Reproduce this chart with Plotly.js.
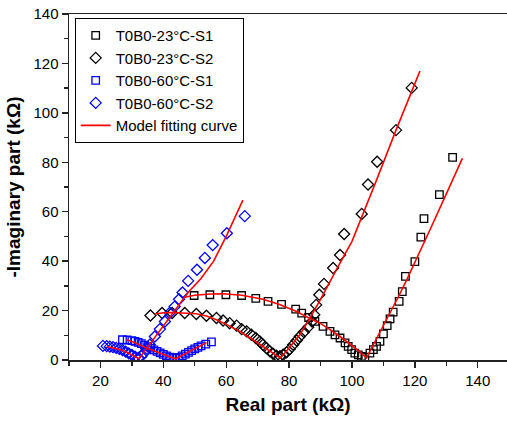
<!DOCTYPE html>
<html>
<head>
<meta charset="utf-8">
<script src="https://cdn.plot.ly/plotly-3.0.1.min.js"></script>
<style>html,body{margin:0;padding:0;overflow:hidden;background:#fff;}</style>
</head>
<body>
<div id="chart" style="width:507px;height:425px;"></div>
<script>
// ---- data (kΩ) ----
const s1_23_x = [49.8,54.8,59.9,64.9,69.4,73.3,77.6,82.1,84,86.2,88.2,90.8,93,94.6,96.2,97.8,98.8,99.9,100.9,102,103,104.1,105.7,106.8,107.8,108.9,110,111.2,112.1,113.1,115,116,117,120,121.9,122.9,127.8,132];
const s1_23_y = [26.1,26.4,26.4,26.1,24.9,23.7,22.5,20.6,19,17.2,15.6,13.6,11.6,10.2,8.9,6.9,5.5,4.2,2.8,2.1,1.5,1.2,2.8,4.2,5.5,7.5,10.6,13.9,16.6,19.4,23.7,27.7,33.8,39.8,49.7,57.2,66.9,82];

const s2_23_x = [35.9,39.6,42.8,46.8,50.5,53.7,56.9,59,61.1,63.3,64.9,66.5,68,69.4,70.7,71.7,72.8,73.9,74.9,76,77.1,78.1,79.2,80.2,81.3,82.4,83.4,84.7,86.1,87.3,88.0,88.6,89.6,91.1,94,96.2,97.5,103.1,105.1,108,114,119];
const s2_23_y = [18,19,19,19,18.6,17.9,17,16,14.9,13.9,12.5,11.6,10.2,8.9,7.5,6.2,4.8,3.5,2.5,1.7,1.5,2.1,3.1,4.4,6.2,7.9,9.5,11.3,13.3,15.6,18.3,22.3,26.4,30.8,37.2,42.5,51,59.1,71,80.2,93,110.1];

const s1_60_x = [27,28.5,30,31,32,33,34,35,36,37,38,39,40,41,42,43,44,45,46,47,48,49,50,51,52,53.5,55.3];
const s1_60_y = [8.2,8.1,7.8,7.5,7.1,6.6,6.0,5.4,4.8,4.1,3.5,2.9,2.3,1.7,1.2,0.9,0.8,1.1,1.7,2.4,3.1,3.8,4.5,5.1,5.7,6.4,7.3];

const s2_60_x = [20.8,22,23,24,25,26,27,28,29,30,31,32,33,34,34.8,35.7,37.3,38.9,40.5,42,43.6,45,46.1,47.9,50.7,53.2,55.7,60.2,65.9];
const s2_60_y = [5.7,5.6,5.4,5.2,4.9,4.5,4,3.4,2.7,2,1.3,0.8,1.5,3,4.5,6.2,9.5,12.5,15.6,19,21.6,24.6,27.3,32,36.5,41.3,46.5,51.3,58.2];

const fit_s1_23_x = [46.8,50,55,59,65,71.7,77,82.4,86,89.8,93,96.2,100,102.5,104.6,107,110,115,117.4,120,125,130,135.1];
const fit_s1_23_y = [25.4,26.2,26.7,26.8,26.2,24.6,22.5,19.6,17.2,14.9,12.3,9.5,5.8,3.3,0.8,6.6,13.8,26.2,32.4,39.4,53.2,67.2,81.6];

const fit_s2_23_x = [37.3,40,43.1,47,50.5,53.7,56.9,60.5,64.3,68,71.7,74.5,76.5,77.2,79,81,83.4,86,90,95,100,107.8,114,121.6];
const fit_s2_23_y = [18.6,19.1,19.2,19.0,18.7,17.8,16.3,14.1,11.6,8.6,5.5,2.9,1.2,0.8,3.3,6.5,10.2,15.5,24.5,36.5,48,72.8,93,116.9];

const fit_s1_60_x = [28.3,31,33.5,36,38.9,41.5,43.9,46,48,50,52,53.7];
const fit_s1_60_y = [8.2,7,5.5,4.2,2.8,1.5,0.5,1.8,3.2,4.6,5.9,7.1];

const fit_s2_60_x = [22,24,26,28,30,31.5,32.3,34,36,40,44,48,52,56,60,65.3];
const fit_s2_60_y = [5.5,5,4.3,3.3,2,1,0.5,3.5,7,14,21,27.5,33,40,50,64.7];

const names = ['T0B0-23°C-S1','T0B0-23°C-S2','T0B0-60°C-S1','T0B0-60°C-S2','Model fitting curve'];

const sq = (c) => ({symbol:'square-open', size:7.5, color:c, line:{width:1.3, color:c}});
const dm = (c) => ({symbol:'diamond-open', size:8.5, color:c, line:{width:1.3, color:c}});
const red = {color:'#ff0000', width:1.6};

const traces = [
  {x:s1_23_x, y:s1_23_y, mode:'markers', name:names[0], marker:sq('#000000')},
  {x:s2_23_x, y:s2_23_y, mode:'markers', name:names[1], marker:dm('#000000')},
  {x:s1_60_x, y:s1_60_y, mode:'markers', name:names[2], marker:sq('#0000ff')},
  {x:s2_60_x, y:s2_60_y, mode:'markers', name:names[3], marker:dm('#0000ff')},
  {x:fit_s1_23_x, y:fit_s1_23_y, mode:'lines', name:names[4], line:red, legendgroup:'fit'},
  {x:fit_s2_23_x, y:fit_s2_23_y, mode:'lines', name:names[4], line:red, legendgroup:'fit', showlegend:false},
  {x:fit_s1_60_x, y:fit_s1_60_y, mode:'lines', name:names[4], line:red, legendgroup:'fit', showlegend:false},
  {x:fit_s2_60_x, y:fit_s2_60_y, mode:'lines', name:names[4], line:red, legendgroup:'fit', showlegend:false}
];

const font = 'Arial, "Liberation Sans", sans-serif';
const layout = {
  width:507, height:425,
  margin:{l:69, r:0, t:14, b:65},
  paper_bgcolor:'#fff', plot_bgcolor:'#fff',
  font:{family:font, size:15, color:'#000'},
  showlegend:true,
  legend:{x:0.013, y:0.988, xanchor:'left', yanchor:'top', bordercolor:'#000', borderwidth:1,
          font:{family:font, size:15, color:'#000'}, bgcolor:'#fff', tracegroupgap:0, itemwidth:30},
  xaxis:{range:[10,149.3], showgrid:false, zeroline:false, showline:true, linecolor:'#222', linewidth:1.5,
         mirror:true, ticks:'outside', ticklen:6, tickwidth:1.3, tickcolor:'#222', dtick:20, tick0:0,
         minor:{ticks:'outside', ticklen:4, dtick:10, tick0:0, tickcolor:'#222', tickwidth:1.3, showgrid:false},
         tickfont:{family:font, size:15, color:'#000'},
         title:{text:'<b>Real part (kΩ)</b>', font:{family:font, size:19, color:'#000'}, standoff:10}},
  yaxis:{range:[0,140], showgrid:false, zeroline:false, showline:true, linecolor:'#222', linewidth:1.5,
         ticks:'outside', ticklen:6, tickwidth:1.3, tickcolor:'#222', dtick:20, tick0:0,
         minor:{ticks:'outside', ticklen:4, dtick:10, tick0:0, tickcolor:'#222', tickwidth:1.3, showgrid:false},
         tickfont:{family:font, size:15, color:'#000'},
         title:{text:'<b>-Imaginary part (kΩ)</b>', font:{family:font, size:19, color:'#000'}, standoff:8}}
};

Plotly.newPlot('chart', traces, layout, {displayModeBar:false, staticPlot:true});
</script>
</body>
</html>
